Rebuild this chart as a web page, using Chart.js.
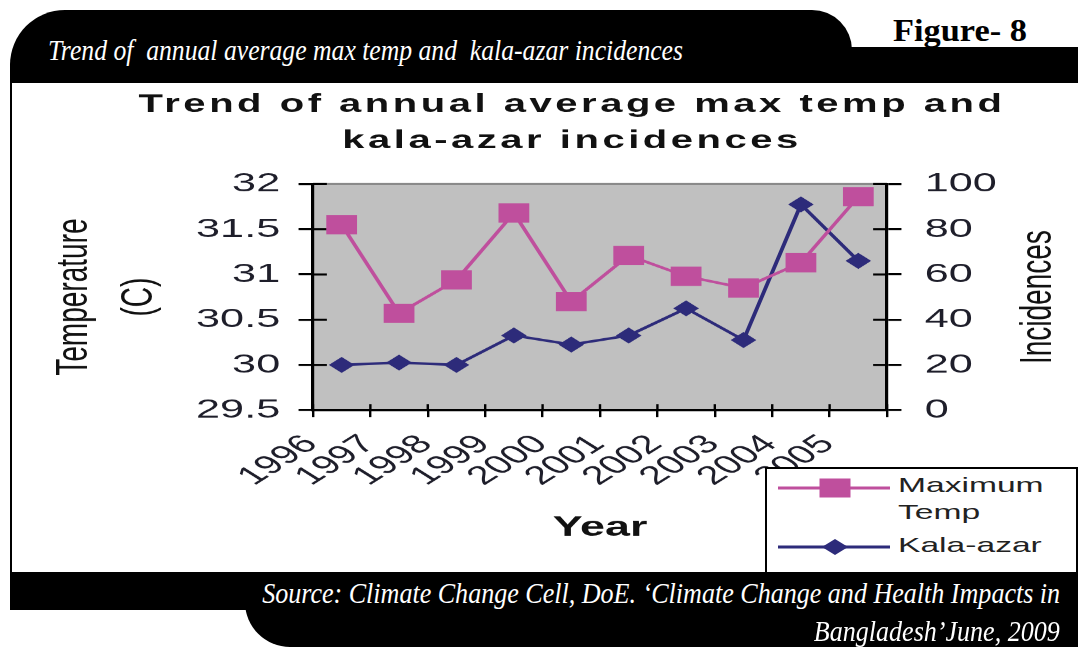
<!DOCTYPE html>
<html>
<head>
<meta charset="utf-8">
<title>Trend of annual average max temp and kala-azar incidences</title>
<script src="https://cdn.jsdelivr.net/npm/chart.js@4/dist/chart.umd.min.js"></script>
<style>
  html, body { margin: 0; padding: 0; }
  body { width: 1078px; height: 647px; overflow: hidden; position: relative; background: #fff; font-family: "Liberation Sans", Arial, sans-serif; }
  .blk { position: absolute; background: #000; }
  .serif { position: absolute; color: #fff; font-family: "Liberation Serif", "Times New Roman", serif; white-space: nowrap; display: inline-block; }
  #frame { position: absolute; left: 10px; top: 83px; width: 1068px; height: 490px; border-left: 2px solid #000; background: #fff; }
  #chart { position: absolute; left: 0; top: 0; width: 1078px; height: 647px; z-index: 2; }
  #legend { position: absolute; left: 765px; top: 467px; width: 309px; height: 108px; border: 2px solid #000; background: #fff; z-index: 3; }
  #legend .sym { position: absolute; left: 11px; }
  #legend .txt { position: absolute; left: 131px; width: 111px; font-size: 21px; line-height: 27px; color: #222; transform: scaleX(1.6); transform-origin: left top; }
  .band { z-index: 4; }
</style>
</head>
<body>
<div class="blk" style="left:10px;top:10px;width:842px;height:74px;border-radius:55px 40px 0 0;"></div>
<div class="blk" style="left:830px;top:47px;width:248px;height:37px;"></div>
<div class="serif" id="figNo" style="left:893px;top:11px;font-size:32px;line-height:38px;font-weight:bold;color:#000;">Figure- 8</div>
<div class="serif" id="headText" style="left:48px;top:32px;font-size:30px;line-height:36px;font-style:italic;">Trend of&nbsp; annual average max temp and&nbsp; kala-azar incidences</div>
<div id="frame"></div>
<canvas id="chart" width="674" height="647" style="width:1078px;height:647px;"></canvas>
<div id="legend"></div>
<div class="blk band" style="left:10px;top:572px;width:1068px;height:38px;"></div>
<div class="blk band" style="left:245px;top:572px;width:833px;height:75px;border-bottom-left-radius:45px;"></div>
<div class="serif band" id="src1" style="right:18px;top:575px;font-size:29px;line-height:36px;font-style:italic;z-index:5;">Source: Climate Change Cell, DoE. ‘Climate Change and Health Impacts in</div>
<div class="serif band" id="src2" style="right:18px;top:613px;font-size:29px;line-height:36px;font-style:italic;z-index:5;">Bangladesh’June, 2009</div>

<script>
// Annual series, 1996-2005
const years = ['1996', '1997', '1998', '1999', '2000', '2001', '2002', '2003', '2004', '2005'];
const maxTemp = [31.55, 30.57, 30.94, 31.68, 30.70, 31.21, 30.98, 30.85, 31.13, 31.86];
const kalaAzar = [20, 21, 20, 33, 29, 33, 45, 31, 91, 66];

// Axis tick labels
const tempTicks = [29.5, 30, 30.5, 31, 31.5, 32];
const incidenceTicks = [0, 20, 40, 60, 80, 100];

const PINK = '#BF4F9D';
const NAVY = '#2D2B7A';
const INK = '#1e1e2a';

// Fit the serif caption lines to their measured widths
function fitWidth(el, target, origin) {
  const w = el.getBoundingClientRect().width;
  el.style.transformOrigin = origin;
  el.style.transform = 'scaleX(' + (target / w) + ')';
  return target / w;
}
fitWidth(document.getElementById('headText'), 635, 'left center');
fitWidth(document.getElementById('figNo'), 134, 'left center');
const s1 = fitWidth(document.getElementById('src1'), 798, 'right center');
const src2 = document.getElementById('src2');
src2.style.transformOrigin = 'right center';
src2.style.transform = 'scaleX(' + s1 + ')';

Chart.defaults.font.family = '"Liberation Sans", Arial, sans-serif';
Chart.defaults.color = INK;

// Grey plot panel with a grey top edge
const panel = {
  id: 'panel',
  beforeDraw(chart) {
    const { ctx, chartArea: a } = chart;
    ctx.save();
    ctx.fillStyle = '#c0c0c0';
    ctx.fillRect(a.left, a.top, a.right - a.left, a.bottom - a.top);
    ctx.strokeStyle = '#8a8a8a';
    ctx.lineWidth = 2;
    ctx.beginPath();
    ctx.moveTo(a.left, a.top);
    ctx.lineTo(a.right, a.top);
    ctx.stroke();
    ctx.restore();
  }
};

// Inner halves of the crossing tick marks
const crossTicks = {
  id: 'crossTicks',
  beforeDatasetsDraw(chart, args, opts) {
    const { ctx, chartArea: a } = chart;
    ctx.save();
    ctx.strokeStyle = '#000';
    ctx.lineWidth = 2;
    ['y', 'y1'].forEach(id => {
      const s = chart.scales[id];
      const x0 = id === 'y' ? a.left : a.right;
      const dir = id === 'y' ? 1 : -1;
      s.ticks.forEach(t => {
        const py = s.getPixelForValue(t.value);
        ctx.beginPath();
        ctx.moveTo(x0, py);
        ctx.lineTo(x0 + dir * opts.inner, py);
        ctx.stroke();
      });
    });
    const xs = chart.scales.x;
    ctx.lineWidth = 1.5;
    for (let i = 0; i <= xs.ticks.length; i++) {
      const px = xs.getPixelForValue(i - 0.5);
      ctx.beginPath();
      ctx.moveTo(px, a.bottom);
      ctx.lineTo(px, a.bottom - opts.innerX);
      ctx.stroke();
    }
    ctx.restore();
  }
};

// Wider letter spacing for the chart title
const spacedTitle = {
  id: 'spacedTitle',
  beforeDraw(chart, args, opts) {
    const tb = chart.titleBlock;
    if (tb && !tb._spaced) {
      const draw = tb.draw.bind(tb);
      tb.draw = function () {
        const ctx = chart.ctx;
        ctx.letterSpacing = opts.spacing + 'px';
        draw();
        ctx.letterSpacing = '0px';
      };
      tb._spaced = true;
    }
  }
};

// Right-hand axis title, reading bottom to top
const sideTitle = {
  id: 'sideTitle',
  afterDraw(chart, args, opts) {
    const { ctx, chartArea: a } = chart;
    const s = chart.scales.y1;
    ctx.save();
    ctx.translate(s.right - opts.offset, (a.top + a.bottom) / 2);
    ctx.rotate(-Math.PI / 2);
    ctx.font = opts.size + 'px "Liberation Sans", Arial, sans-serif';
    ctx.fillStyle = opts.color;
    ctx.textAlign = 'center';
    ctx.textBaseline = 'middle';
    ctx.fillText(opts.text, 0, 0);
    ctx.restore();
  }
};

const chart = new Chart(document.getElementById('chart'), {
  type: 'line',
  data: {
    labels: years,
    datasets: [
      {
        label: 'Maximum Temp',
        data: maxTemp,
        yAxisID: 'y',
        borderColor: PINK,
        backgroundColor: PINK,
        borderWidth: 2.5,
        pointStyle: 'rect',
        pointRadius: 13.6,
        pointHoverRadius: 13.6,
        pointBorderWidth: 0,
        tension: 0,
        clip: false
      },
      {
        label: 'Kala-azar',
        data: kalaAzar,
        yAxisID: 'y1',
        borderColor: NAVY,
        backgroundColor: NAVY,
        borderWidth: 2.5,
        pointStyle: 'rectRot',
        pointRadius: 8,
        pointHoverRadius: 8,
        pointBorderWidth: 0,
        tension: 0,
        clip: false
      }
    ]
  },
  options: {
    responsive: false,
    devicePixelRatio: 1.6,
    animation: false,
    events: [],
    layout: { padding: { top: 80, left: 41, right: 0, bottom: 0 } },
    plugins: {
      legend: { display: false },
      tooltip: { enabled: false },
      title: {
        display: true,
        text: ['Trend of annual average max temp and', 'kala-azar incidences'],
        color: '#111',
        font: { size: 25, weight: 'bold', lineHeight: 1.44 },
        padding: { top: 7, bottom: 25 }
      },
      spacedTitle: { spacing: 2.2 },
      crossTicks: { inner: 8.7, innerX: 6 },
      sideTitle: { text: 'Incidences', size: 28, color: '#111', offset: 25 }
    },
    scales: {
      x: {
        type: 'category',
        offset: true,
        grid: { display: true, offset: true, drawOnChartArea: false, drawTicks: true, tickLength: 7, color: '#000', lineWidth: 1.5 },
        border: { display: true, color: '#000', width: 2.5 },
        ticks: { autoSkip: false, minRotation: 45, maxRotation: 45, padding: 12, labelOffset: -19, font: { size: 26 }, color: INK },
        title: { display: true, text: 'Year', color: '#111', font: { size: 28, weight: 'bold', lineHeight: 1.2 }, padding: { top: 0, bottom: 102 } },
        afterFit(s) { s.height = 237; }
      },
      y: {
        position: 'left',
        min: tempTicks[0],
        max: tempTicks[tempTicks.length - 1],
        afterBuildTicks(s) { s.ticks = tempTicks.map(v => ({ value: v })); },
        grid: { display: true, drawOnChartArea: false, drawTicks: true, tickLength: 9, color: '#000', lineWidth: 2 },
        border: { display: true, color: '#000', width: 2 },
        ticks: { padding: 11.5, font: { size: 27 }, color: INK, callback: v => String(v) },
        title: { display: true, text: ['Temperature', '(C)'], color: '#111', font: { size: 28, lineHeight: 1.45 }, padding: { top: -14.4, bottom: 0 } },
        afterFit(s) { s.width = 154.6; }
      },
      y1: {
        position: 'right',
        min: incidenceTicks[0],
        max: incidenceTicks[incidenceTicks.length - 1],
        afterBuildTicks(s) { s.ticks = incidenceTicks.map(v => ({ value: v })); },
        grid: { display: true, drawOnChartArea: false, drawTicks: true, tickLength: 9, color: '#000', lineWidth: 2 },
        border: { display: true, color: '#000', width: 2 },
        ticks: { padding: 14.6, font: { size: 27 }, color: INK, callback: v => String(v) },
        afterFit(s) { s.width = 119.6; }
      }
    }
  },
  plugins: [panel, crossTicks, spacedTitle, sideTitle]
});

// Legend: line-and-marker swatch plus label for each series
(function buildLegend() {
  const box = document.getElementById('legend');
  const rows = [
    { ds: chart.data.datasets[0], lineY: 19, textTop: 1.5 },
    { ds: chart.data.datasets[1], lineY: 78, textTop: 61.5 }
  ];
  const NS = 'http://www.w3.org/2000/svg';
  rows.forEach(r => {
    const svg = document.createElementNS(NS, 'svg');
    svg.setAttribute('class', 'sym');
    svg.setAttribute('width', '112');
    svg.setAttribute('height', '30');
    svg.style.top = (r.lineY - 15) + 'px';
    const line = document.createElementNS(NS, 'line');
    line.setAttribute('x1', '0'); line.setAttribute('x2', '112');
    line.setAttribute('y1', '15'); line.setAttribute('y2', '15');
    line.setAttribute('stroke', r.ds.borderColor);
    line.setAttribute('stroke-width', '3');
    svg.appendChild(line);
    let mark;
    if (r.ds.pointStyle === 'rect') {
      mark = document.createElementNS(NS, 'rect');
      mark.setAttribute('x', String(57 - 15.5)); mark.setAttribute('y', String(15 - 9.5));
      mark.setAttribute('width', '31'); mark.setAttribute('height', '19');
    } else {
      mark = document.createElementNS(NS, 'polygon');
      mark.setAttribute('points', '44,15 57,7 70,15 57,23');
    }
    mark.setAttribute('fill', r.ds.backgroundColor);
    svg.appendChild(mark);
    box.appendChild(svg);
    const t = document.createElement('div');
    t.className = 'txt';
    t.style.top = r.textTop + 'px';
    t.textContent = r.ds.label;
    box.appendChild(t);
  });
})();
</script>
</body>
</html>
